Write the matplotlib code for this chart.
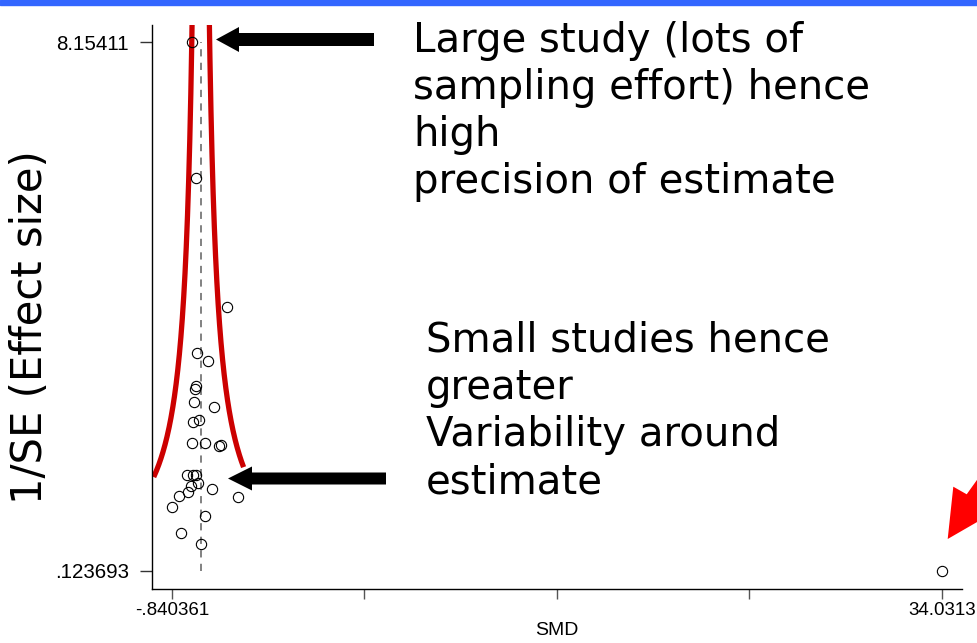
"""
Funnel plot (1/SE against SMD) with slide-style annotations.

Writes out.png
"""

import matplotlib
matplotlib.use("Agg")
import matplotlib.pyplot as plt
import numpy as np
from matplotlib.patches import FancyArrow, Polygon, Rectangle

# ── Data ──────────────────────────────────────────────────────────────────────

SMD = [
    0.052, 0.224, 1.637, 0.306, 0.777, 0.247, 0.215, 0.143, 1.048, 0.097,
    0.383, 0.079, 0.641, 1.275, 1.393, -0.147, 0.097, 0.247, 0.337, 0.020,
    -0.116, -0.510, 0.971, -0.840361, 2.149, 0.668, -0.419, 0.459, 34.0313,
]
PRECISION = [
    8.15411, 6.087, 4.136, 3.429, 3.316, 2.932, 2.882, 2.694, 2.613, 2.381,
    2.416, 2.062, 2.062, 2.017, 2.032, 1.581, 1.581, 1.581, 1.455, 1.414,
    1.327, 1.267, 1.368, 1.095, 1.242, 0.954, 0.696, 0.538, 0.123693,
]

POOLED = 0.46          # dashed reference line
FUNNEL_C = 3.3         # half-width of funnel = FUNNEL_C / precision
FUNNEL_LO_LEFT = 1.55  # lowest precision the red curves reach
FUNNEL_LO_RIGHT = 1.70

X_TICKS = [-0.840361, 7.877, 16.595, 25.313, 34.0313]
X_TICKLABELS = ["-.840361", "", "", "", "34.0313"]
Y_TICKS = [0.123693, 8.15411]
Y_TICKLABELS = [".123693", "8.15411"]

NOTE_TOP = ["Large study (lots of", "sampling effort) hence", "high",
            "precision of estimate"]
NOTE_BOTTOM = ["Small studies hence", "greater", "Variability around",
               "estimate"]

W, H = 977, 643


def main() -> None:
    fig = plt.figure(figsize=(W / 100, H / 100), dpi=100)
    fig.patch.set_facecolor("white")

    # blue slide bar along the top
    fig.patches.append(Rectangle((0, 1 - 5 / H), 1, 5 / H, transform=fig.transFigure,
                                 color="#3366ff", zorder=0))

    ax = fig.add_axes([152 / W, 1 - 589 / H, (962 - 152) / W, (589 - 25) / H])
    ax.set_xlim(-1.7461, 34.9371)
    ax.set_ylim(-0.1496, 8.4122)

    # funnel
    yl = np.linspace(FUNNEL_LO_LEFT, 8.6, 300)
    yr = np.linspace(FUNNEL_LO_RIGHT, 8.6, 300)
    ax.plot(POOLED - FUNNEL_C / yl, yl, color="#cc0000", linewidth=3.8,
            solid_capstyle="butt", zorder=2)
    ax.plot(POOLED + FUNNEL_C / yr, yr, color="#cc0000", linewidth=3.8,
            solid_capstyle="butt", zorder=2)

    ax.plot([POOLED, POOLED], [min(PRECISION), max(PRECISION)], color="#777777",
            linewidth=1.3, dashes=(4, 3.5), zorder=1)

    ax.plot(SMD, PRECISION, "o", markersize=7.4, markerfacecolor="none",
            markeredgecolor="black", markeredgewidth=0.8, zorder=3)

    for side in ("top", "right"):
        ax.spines[side].set_visible(False)
    for side in ("left", "bottom"):
        ax.spines[side].set_linewidth(1.0)
        ax.spines[side].set_color("black")

    ax.set_xticks(X_TICKS, X_TICKLABELS)
    ax.set_yticks(Y_TICKS, Y_TICKLABELS)
    ax.tick_params(axis="x", length=7, width=1.0, color="#555555", pad=2.5,
                   labelsize=13.5)
    ax.tick_params(axis="y", length=8.5, width=1.0, color="#333333", pad=8,
                   labelsize=14.8)
    for lab in ax.get_xticklabels() + ax.get_yticklabels():
        lab.set_fontfamily("Liberation Sans")
    ax.set_xlabel("SMD", fontsize=14, fontfamily="Liberation Sans", labelpad=2)

    fig.text(30 / W, 1 - 327 / H, "1/SE (Effect size)", rotation=90,
             ha="center", va="center", fontsize=30, fontfamily="DejaVu Sans")

    # overlay in pixel coordinates for annotations
    ov = fig.add_axes([0, 0, 1, 1], zorder=5)
    ov.set_xlim(0, W)
    ov.set_ylim(H, 0)
    ov.axis("off")
    ov.patch.set_alpha(0)

    for i, line in enumerate(NOTE_TOP):
        ov.text(413, 52 + 47 * i, line, fontsize=29, va="baseline", ha="left",
                fontfamily="DejaVu Sans")
    for i, line in enumerate(NOTE_BOTTOM):
        ov.text(426, 352 + 47.2 * i, line, fontsize=29, va="baseline", ha="left",
                fontfamily="DejaVu Sans")

    ov.add_patch(FancyArrow(374, 39.5, -158, 0, width=13, head_width=25,
                            head_length=23, length_includes_head=True,
                            color="black", linewidth=0))
    ov.add_patch(FancyArrow(386, 478.5, -158, 0, width=12, head_width=24,
                            head_length=24, length_includes_head=True,
                            color="black", linewidth=0))
    ov.add_patch(Polygon([(947.7, 539), (953.3, 486.7), (966.7, 494.3),
                          (978, 478.5), (978, 521.5)], closed=True,
                         color="#ff0000", linewidth=0))

    fig.savefig("out.png", dpi=100)
    plt.close(fig)


if __name__ == "__main__":
    main()
